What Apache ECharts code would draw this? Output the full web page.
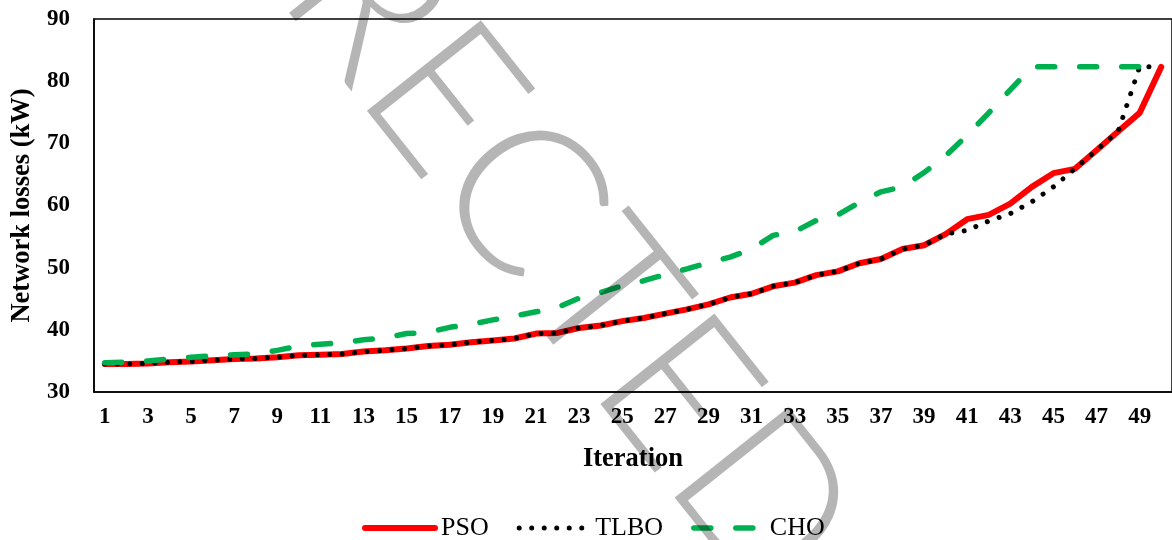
<!DOCTYPE html>
<html>
<head>
<meta charset="utf-8">
<script src="https://cdn.jsdelivr.net/npm/echarts@6/dist/echarts.min.js"></script>
<style>
html,body{margin:0;padding:0;background:#fff;}
#chart{width:1172px;height:540px;}
</style>
</head>
<body>
<div id="chart"></div>
<script>
const iterations = Array.from({length: 50}, (_, i) => String(i + 1));
const psoValues = [34.5,34.5,34.6,34.8,34.9,35.1,35.3,35.4,35.6,35.9,36.0,36.1,36.5,36.7,37.0,37.4,37.6,38.0,38.3,38.6,39.4,39.5,40.3,40.7,41.4,41.9,42.6,43.3,44.1,45.2,45.8,47.0,47.6,48.8,49.4,50.7,51.4,53.0,53.6,55.4,57.8,58.5,60.3,63.0,65.2,65.9,68.9,71.9,74.9,82.3];
const tlboValues = [34.5,34.5,34.6,34.8,34.9,35.1,35.3,35.4,35.6,35.9,36.0,36.1,36.5,36.7,37.0,37.4,37.6,38.0,38.3,38.6,39.4,39.5,40.3,40.7,41.4,41.9,42.6,43.3,44.1,45.2,45.8,47.0,47.6,48.8,49.4,50.7,51.4,53.0,53.6,55.4,56.0,57.5,58.7,60.6,63.0,65.9,68.9,71.9,82.3,82.3];
const choValues = [34.7,34.8,35.0,35.3,35.6,35.8,36.0,36.1,36.7,37.4,37.7,37.9,38.4,38.7,39.4,39.6,40.4,40.9,41.6,42.2,42.9,43.6,45.1,46.0,47.1,47.9,48.9,49.8,50.8,51.7,53.0,55.2,55.8,57.6,58.5,60.5,62.2,63.0,65.3,68.0,71.3,74.9,78.6,82.3,82.3,82.3,82.3,82.3,82.3,82.3];
const seriesNames = ['PSO', 'TLBO', 'CHO'];
const yTicks = {min: 30, max: 90, interval: 10};
const watermarkText = 'CORRECTED';

const FONT = "'Liberation Serif','Times New Roman',serif";
const lineStyles = [
  {color: '#FF0000', width: 6, type: 'solid', cap: 'round', join: 'round'},
  {color: '#000000', width: 5, type: [0.01, 12.5], cap: 'round', join: 'round'},
  {color: '#00B050', width: 5.5, type: [17, 25], cap: 'round', join: 'round'}
];
const chart = echarts.init(document.getElementById('chart'), null, {renderer: 'canvas'});
chart.setOption({
  animation: false,
  backgroundColor: '#fff',
  grid: {left: 94, top: 19, width: 1080, height: 373, show: true, borderColor: '#000', borderWidth: 1.5, backgroundColor: 'transparent'},
  xAxis: {
    type: 'category',
    data: iterations,
    boundaryGap: true,
    name: 'Iteration',
    nameLocation: 'middle',
    nameGap: 54,
    nameTextStyle: {fontFamily: FONT, fontWeight: 'bold', fontSize: 26.5, color: '#000'},
    axisLine: {show: true, lineStyle: {color: '#000', width: 1.5}},
    axisTick: {show: false},
    axisLabel: {interval: 1, fontFamily: FONT, fontWeight: 'bold', fontSize: 23, color: '#000', margin: 14},
    splitLine: {show: false}
  },
  yAxis: {
    type: 'value',
    min: yTicks.min, max: yTicks.max, interval: yTicks.interval,
    name: 'Network losses (kW)',
    nameLocation: 'middle',
    nameGap: 54,
    nameTextStyle: {fontFamily: FONT, fontWeight: 'bold', fontSize: 26.5, color: '#000'},
    axisLine: {show: true, lineStyle: {color: '#000', width: 1.5}},
    axisTick: {show: false},
    axisLabel: {fontFamily: FONT, fontWeight: 'bold', fontSize: 23, color: '#000', margin: 24},
    splitLine: {show: false}
  },
  legend: {
    data: seriesNames.map((n, i) => ({name: n, itemStyle: {opacity: 0}, lineStyle: Object.assign({}, lineStyles[i])})),
    left: 362, top: 515,
    padding: 0,
    itemWidth: 70, itemHeight: 14, itemGap: 28,
    textStyle: {fontFamily: FONT, fontSize: 26, color: '#000', padding: [0, 0, 0, 1]}
  },
  series: [
    {name: seriesNames[0], type: 'line', data: psoValues, symbol: 'none', z: 2, lineStyle: lineStyles[0], itemStyle: {color: lineStyles[0].color}},
    {name: seriesNames[1], type: 'line', data: tlboValues, symbol: 'none', z: 3, lineStyle: lineStyles[1], itemStyle: {color: lineStyles[1].color}},
    {name: seriesNames[2], type: 'line', data: choValues, symbol: 'none', z: 4, lineStyle: lineStyles[2], itemStyle: {color: lineStyles[2].color}}
  ],
  graphic: [{
    type: 'text', z: 100, silent: true,
    x: 437, y: 92, rotation: -51.5 * Math.PI / 180,
    style: {text: watermarkText, font: "206px 'Lato Light', Lato", fill: 'rgba(0,0,0,0.29)', textAlign: 'center', textVerticalAlign: 'middle'}
  }]
});
</script>
</body>
</html>
